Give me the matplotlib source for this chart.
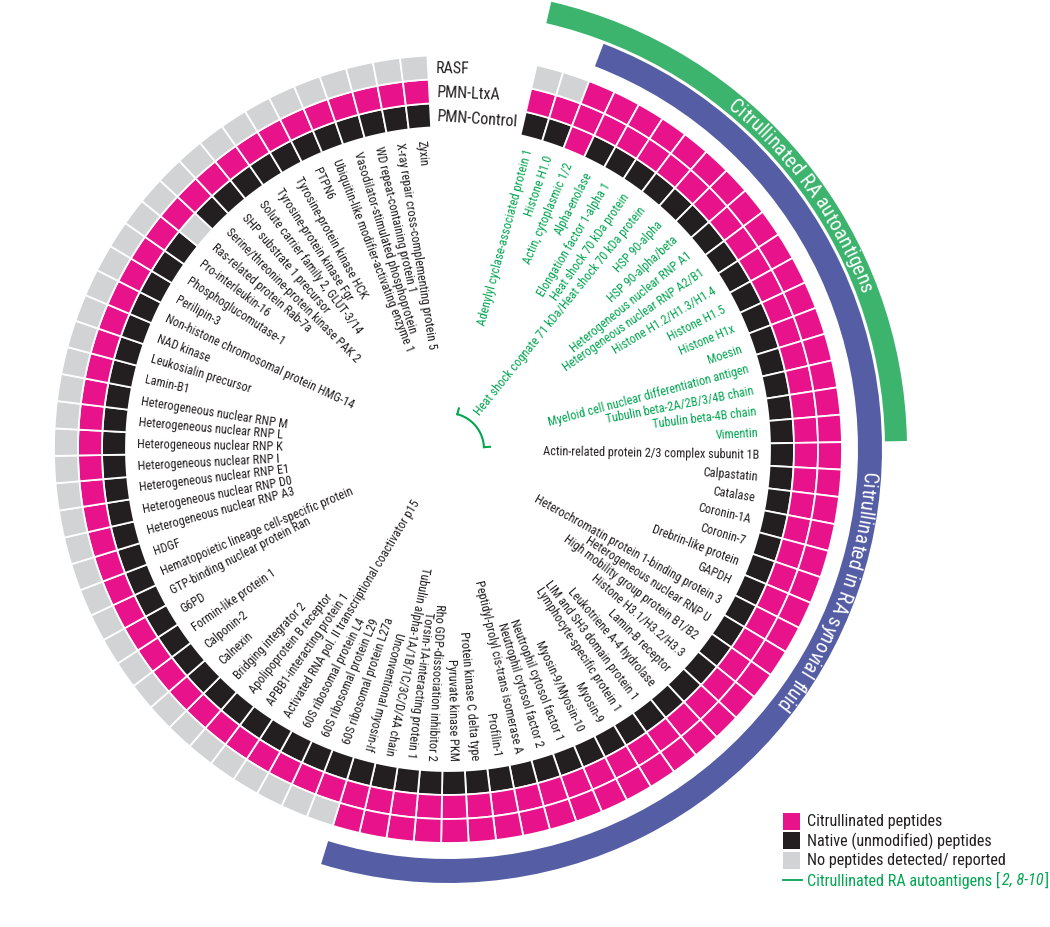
import numpy as np
import matplotlib.pyplot as plt
from matplotlib import font_manager
from matplotlib.textpath import text_to_path
from matplotlib.patches import Rectangle
from matplotlib.lines import Line2D

# Proteins in clockwise order, starting at the top gap
autoantigens = [
    'Adenylyl cyclase-associated protein 1', 'Histone H1.0', 'Actin, cytoplasmic 1/2',
    'Alpha-enolase', 'Elongation factor 1-alpha 1', 'Heat shock 70 kDa protein',
    'Heat shock cognate 71 kDa/Heat shock 70 kDa protein', 'HSP 90-alpha', 'HSP 90-alpha/beta',
    'Heterogeneous nuclear RNP A1', 'Heterogeneous nuclear RNP A2/B1', 'Histone H1.2/H1.3/H1.4',
    'Histone H1.5', 'Histone H1x', 'Moesin', 'Myeloid cell nuclear differentiation antigen',
    'Tubulin beta-2A/2B/3/4B chain', 'Tubulin beta-4B chain', 'Vimentin',
]
other_proteins = [
    'Actin-related protein 2/3 complex subunit 1B', 'Calpastatin', 'Catalase', 'Coronin-1A',
    'Coronin-7', 'Drebrin-like protein', 'GAPDH', 'Heterochromatin protein 1-binding protein 3',
    'Heterogeneous nuclear RNP U', 'High mobility group protein B1/B2', 'Histone H3.1/H3.2/H3.3',
    'Lamin-B receptor', 'Leukotriene A-4 hydrolase', 'LIM and SH3 domain protein 1',
    'Lymphocyte-specific protein 1', 'Myosin-9', 'Myosin-9/Myosin-10', 'Neutrophil cytosol factor 1',
    'Neutrophil cytosol factor 2', 'Peptidyl-prolyl cis-trans isomerase A', 'Profilin-1',
    'Protein kinase C delta type', 'Pyruvate kinase PKM', 'Rho GDP-dissociation inhibitor 2',
    'Torsin-1A-interacting protein 1', 'Tubulin alpha-1A/1B/1C/3C/D/4A chain',
    'Unconventional myosin-If', '60S ribosomal protein L27a', '60S ribosomal protein L29',
    '60S ribosomal protein L4', 'Activated RNA pol. II transcriptional coactivator p15',
    'APBB1-interacting protein 1', 'Apolipoprotein B receptor', 'Bridging integrator 2', 'Calnexin',
    'Calponin-2', 'Formin-like protein 1', 'G6PD', 'GTP-binding nuclear protein Ran',
    'Hematopoietic lineage cell-specific protein', 'HDGF', 'Heterogeneous nuclear RNP A3',
    'Heterogeneous nuclear RNP D0', 'Heterogeneous nuclear RNP E1', 'Heterogeneous nuclear RNP I',
    'Heterogeneous nuclear RNP K', 'Heterogeneous nuclear RNP L', 'Heterogeneous nuclear RNP M',
    'Lamin-B1', 'Leukosialin precursor', 'NAD kinase', 'Non-histone chromosomal protein HMG-14',
    'Perilipin-3', 'Phosphoglucomutase-1', 'Pro-interleukin-16', 'Ras-related protein Rab-7a',
    'Serine/threonine-protein kinase PAK 2', 'SHP substrate 1 precursor',
    'Solute carrier family 2, GLUT-3/14', 'Tyrosine-protein kinase Fgr',
    'Tyrosine-protein kinase HCK', 'PTPN6', 'Ubiquitin-like modifier-activating enzyme 1',
    'Vasodilator-stimulated phosphoprotein', 'WD repeat-containing protein 1',
    'X-ray repair cross-complementing protein 5', 'Zyxin',
]
proteins = autoantigens + other_proteins

# C = citrullinated, N = native, - = not detected (inner ring first)
ring_names = ['PMN-Control', 'PMN-LtxA', 'RASF']
pmn_control = ('NNCNNNNNNN' 'NNNNNNNNNN' 'NNNNNNNNNN' 'NNNNNNNNNN' 'NNNNNNNNNN'
               'NNNNNNNNNN' 'NNNNNNNNNN' 'NNNN-NNNNN' 'NNNNNN')
pmn_ltxa = ('CCCCCCCCCC' 'CCCCCCCCCC' 'CCCCCCCCCC' 'CCCCCCCCCC' 'CCCCCCCCCC'
            'CCCCCCCCCC' 'CCCCCCCCCC' 'CCCCCCCCCC' 'CCCCCC')
rasf = ('--CCCCCCCC' 'CCCCCCCCCC' 'CCCCCCCCCC' 'CCCCCCCCCC' 'CCCCCC----'
        '----------' '----------' '----------' '------')
rings = [pmn_control, pmn_ltxa, rasf]

legend_labels = ['Citrullinated peptides', 'Native (unmodified) peptides',
                 'No peptides detected/ reported']
ref_label, ref_cite = 'Citrullinated RA autoantigens [', '2, 8-10'

PINK, BLACK, GRAY = '#E8128B', '#231F20', '#D1D3D4'
BLUE, GREEN, GREEN_TXT = '#555EA5', '#3CB46E', '#00A650'
status_colors = {'C': PINK, 'N': BLACK, '-': GRAY}

# a condensed face is closest to the original; fall back to Open Sans
available = {f.name for f in font_manager.fontManager.ttflist}
FONT, FS = ('Roboto Condensed', 1.0) if 'Roboto Condensed' in available else ('Open Sans', 0.8)
plt.rcParams['font.family'] = FONT
PX = 100 / 72  # pixels per point


def text_px(s, size, style='normal'):
    fp = font_manager.FontProperties(family=FONT, size=size, style=style)
    return text_to_path.get_text_width_height_descent(s, fp, ismath=False)[0] * PX


# geometry (pixels)
R_IN, BAND, R_LAB = 322, 24, 311
START, GAP = 77.0, 16.0
n = len(proteins)
step = (360 - GAP) / n
theta_deg = START - step * (np.arange(n) + 0.5)
theta = np.deg2rad(theta_deg)

W, H = 1050, 928
fig = plt.figure(figsize=(W / 100, H / 100), dpi=100)
cx, cy, S = 448, 478, 470
ax = fig.add_axes([(cx - S) / W, (cy - S) / H, 2 * S / W, 2 * S / H], projection='polar')
ax.set_ylim(0, S)
ax.set_axis_off()

# heatmap rings
for j, row in enumerate(rings):
    ax.bar(theta, BAND, width=np.deg2rad(step), bottom=R_IN + j * BAND,
           color=[status_colors[s] for s in row], edgecolor='white', linewidth=1.3)

# ring names in the gap
for j, name in enumerate(ring_names):
    ax.text(np.deg2rad(91.8), R_IN + (j + 0.5) * BAND, name, ha='left', va='center',
            rotation=[-4, -2.5, -1][j], rotation_mode='anchor', fontsize=11.5 * FS, color=BLACK)

# protein labels; the ones belonging to the synovial-fluid group read outward
n_right = rasf.rfind('C') + 1
for k, name in enumerate(proteins):
    col = GREEN_TXT if k < len(autoantigens) else BLACK
    if k < n_right:
        ax.text(theta[k], R_LAB, name, rotation=theta_deg[k], ha='right', va='center',
                rotation_mode='anchor', fontsize=8.8 * FS, color=col)
    else:
        ax.text(theta[k], R_LAB, name, rotation=theta_deg[k] + 180, ha='left', va='center',
                rotation_mode='anchor', fontsize=8.8 * FS, color=col)


def group_band(i0, i1, bottom, height, color):
    t0 = START - step * i0
    t1 = START - step * (i1 + 1)
    ax.bar(np.deg2rad((t0 + t1) / 2), height, width=np.deg2rad(t0 - t1), bottom=bottom,
           color=color, linewidth=0)


def curved_text(s, start_deg, end_deg, r, color):
    # size the text so that it fills the arc from start_deg to end_deg
    fs = 16 * np.deg2rad(start_deg - end_deg) * r / text_px(s, 16)
    for i, ch in enumerate(s):
        if ch == ' ':
            continue
        pos = text_px(s[:i + 1], fs) - text_px(ch, fs) / 2
        th = np.deg2rad(start_deg) - pos / r
        ax.text(th, r, ch, rotation=np.rad2deg(th) - 90, ha='center', va='baseline',
                rotation_mode='anchor', fontsize=fs, color=color)


# outer group bands
rasf_idx = [k for k, s in enumerate(rasf) if s == 'C']
group_band(rasf_idx[0], rasf_idx[-1], 410, 24, BLUE)
group_band(0, len(autoantigens) - 1, 437, 22, GREEN)
curved_text('Citrullinated in RA synovial fluid', -3.0, -38.0, 415, 'white')
curved_text('Citrullinated RA autoantigens', 50.8, 20.6, 441.5, 'white')

# small green bracket near the centre
b0 = START - step / 2
b1 = START - step * (len(autoantigens) - 0.5)
arc = np.deg2rad(np.linspace(b0, b1, 60))
ax.plot(arc, np.full(arc.size, 36), color=GREEN_TXT, lw=1.5)
for b in (b0, b1):
    ax.plot([np.deg2rad(b)] * 2, [36, 42], color=GREEN_TXT, lw=1.5)

# legend (pixel positions, from the top)
LFS = 11.6 * FS
for i, (c, lab) in enumerate(zip([PINK, BLACK, GRAY], legend_labels)):
    y = 822 + 19.5 * i
    fig.add_artist(Rectangle((783 / W, 1 - (y + 8.5) / H), 17 / W, 17 / H,
                             transform=fig.transFigure, color=c, lw=0))
    fig.text(807 / W, 1 - y / H, lab, va='center', fontsize=LFS, color=BLACK)
y = 822 + 19.5 * 3
fig.add_artist(Line2D([783 / W, 802 / W], [1 - y / H] * 2, transform=fig.transFigure,
                      color=GREEN_TXT, lw=1.3))
x = 807
fig.text(x / W, 1 - y / H, ref_label, va='center', fontsize=LFS, color=GREEN_TXT)
x += text_px(ref_label, LFS) + 1.5
fig.text(x / W, 1 - y / H, ref_cite, va='center', fontsize=LFS, style='italic', color=GREEN_TXT)
x += text_px(ref_cite, LFS, 'italic') + 1.5
fig.text(x / W, 1 - y / H, ']', va='center', fontsize=LFS, color=GREEN_TXT)

fig.savefig('out.png', dpi=100)
